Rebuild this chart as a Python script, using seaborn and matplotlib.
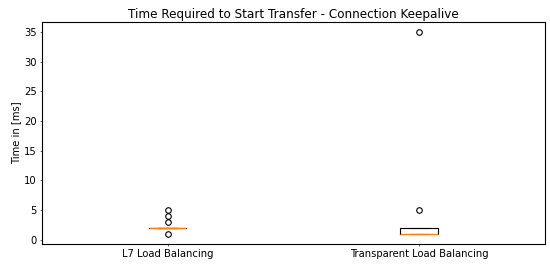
import matplotlib
matplotlib.use("Agg")

import matplotlib.pyplot as plt
import pandas as pd
import seaborn as sns

categories = ["L7 Load Balancing", "Transparent Load Balancing"]
l7_times = [2] * 40 + [1, 3, 4, 5]
transparent_times = [1] * 24 + [2] * 18 + [5, 35]

df = pd.DataFrame({
    "setup": [categories[0]] * len(l7_times) + [categories[1]] * len(transparent_times),
    "time": l7_times + transparent_times,
})

plt.rcParams["font.size"] = 14.4

fig = plt.figure(figsize=(11, 5.34), dpi=50)
ax = fig.add_axes([0.076, 0.086, 0.915, 0.832])
sns.boxplot(
    data=df, x="setup", y="time", ax=ax,
    order=categories, width=0.15, fill=False, color="black", linewidth=1.6,
    whis=1.5,
    medianprops={"color": "#ff7f0e", "linewidth": 1.6},
    flierprops={"marker": "o", "markersize": 8, "markerfacecolor": "none",
                "markeredgecolor": "black", "markeredgewidth": 1.6},
)
ax.set_xlim(-0.5, 1.5)
ax.set_xlabel("")
ax.set_ylabel("Time in [ms]", fontsize=14.4)
ax.set_title("Time Required to Start Transfer - Connection Keepalive", fontsize=17.3)
ax.tick_params(labelsize=14.4)
for s in ax.spines.values():
    s.set_linewidth(1.6)

plt.savefig("out.png", dpi=50)
plt.close()
